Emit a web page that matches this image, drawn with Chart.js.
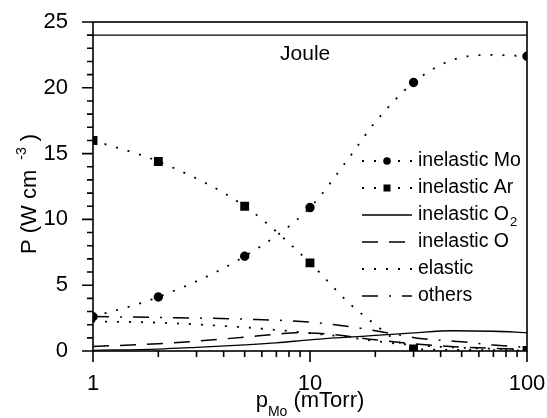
<!DOCTYPE html>
<html>
<head>
<meta charset="utf-8">
<script src="https://cdn.jsdelivr.net/npm/chart.js@4.4.1/dist/chart.umd.min.js"></script>
<style>
  html, body { margin: 0; padding: 0; background: #fff; }
  canvas { display: block; }
</style>
</head>
<body>
<canvas id="graficoPotencia" width="547" height="418"></canvas>
<script>
// Datos: P (W cm^-3) contra p_Mo (mTorr)
const ticksX = [1, 10, 100];
const ticksMenoresX = [2, 3, 4, 5, 6, 7, 8, 9, 20, 30, 40, 50, 60, 70, 80, 90];
const ticksY = [0, 5, 10, 15, 20, 25];

const jouleX = [1, 100];
const jouleY = [24, 24];

const moX = [1, 2, 5, 10, 15, 20, 30, 45, 67, 100];
const moY = [2.6, 4.1, 7.2, 10.9, 14.6, 17.4, 20.4, 22.1, 22.5, 22.4];
const moMarcas = [1, 2, 5, 10, 30, 100];

const arX = [1, 2, 5, 10, 15, 20, 25, 30, 50, 100];
const arY = [16.0, 14.4, 11.0, 6.7, 3.7, 2.0, 0.8, 0.15, 0.08, 0.05];
const arMarcas = [1, 2, 5, 10, 30, 100];

const o2X = [1, 2, 3, 5, 7, 10, 15, 20, 30, 45, 70, 100];
const o2Y = [0.05, 0.15, 0.28, 0.47, 0.62, 0.85, 1.05, 1.18, 1.38, 1.54, 1.5, 1.4];

const oX = [1, 2, 5, 7, 9, 12, 20, 30, 50, 100];
const oY = [0.35, 0.55, 1.05, 1.28, 1.38, 1.3, 0.85, 0.55, 0.3, 0.12];

const elasticoX = [1, 2, 5, 7, 10, 15, 20, 30, 50, 100];
const elasticoY = [2.25, 2.15, 1.8, 1.6, 1.35, 1.05, 0.75, 0.45, 0.25, 0.1];

const otrosX = [1, 2, 5, 10, 16, 23, 33, 50, 70, 100];
const otrosY = [2.62, 2.55, 2.42, 2.2, 1.8, 1.37, 0.93, 0.7, 0.45, 0.28];

const fuente = "'Liberation Sans', Arial, Helvetica, sans-serif";

function puntos(xs, ys) {
    return xs.map((x, i) => ({ x: x, y: ys[i] }));
}

// Radio del marcador solo en los puntos medidos
function radioMarcas(xs, marcas, radio) {
    return ctx => marcas.includes(xs[ctx.dataIndex]) ? radio : 0;
}

function serie(etiqueta, xs, ys, estilo) {
    return Object.assign({
        label: etiqueta,
        data: puntos(xs, ys),
        borderColor: '#000',
        backgroundColor: '#000',
        borderWidth: 1.5,
        pointRadius: 0,
        cubicInterpolationMode: 'monotone',
        clip: 0,
        fill: false
    }, estilo);
}

const punteado = [2, 10];

const datasets = [
    serie('Joule', jouleX, jouleY, { borderWidth: 1.2 }),
    serie('inelastic Mo', moX, moY, {
        borderDash: punteado, borderWidth: 1.8,
        pointStyle: 'circle', pointRadius: radioMarcas(moX, moMarcas, 3.8),
        leyenda: true
    }),
    serie('inelastic Ar', arX, arY, {
        borderDash: punteado, borderWidth: 1.8,
        pointStyle: 'rect', pointRadius: radioMarcas(arX, arMarcas, 5),
        leyenda: true
    }),
    serie('inelastic O', o2X, o2Y, { borderWidth: 1.3, leyenda: true, subindice: '2' }),
    serie('inelastic O', oX, oY, { borderDash: [16, 11], leyenda: true }),
    serie('elastic', elasticoX, elasticoY, { borderDash: punteado, borderWidth: 1.8, leyenda: true }),
    serie('others', otrosX, otrosY, { borderDash: [16, 11, 2, 11], leyenda: true })
];

// Marco, ticks mayores y menores, títulos de ejes, texto Joule y leyenda
const pluginDecoracion = {
    id: 'decoracion',
    afterDraw(chart) {
        const ctx = chart.ctx;
        const a = chart.chartArea;
        const sx = chart.scales.x;
        const sy = chart.scales.y;
        ctx.save();
        ctx.strokeStyle = '#000';
        ctx.fillStyle = '#000';
        ctx.lineWidth = 1.6;
        ctx.setLineDash([]);
        ctx.strokeRect(a.left, a.top, a.right - a.left, a.bottom - a.top);

        ctx.beginPath();
        for (let v = 0; v <= 25; v++) {
            const py = sy.getPixelForValue(v);
            const largo = ticksY.includes(v) ? 11 : 6;
            ctx.moveTo(a.left - largo, py);
            ctx.lineTo(a.left, py);
        }
        ticksX.forEach(v => {
            const px = sx.getPixelForValue(v);
            ctx.moveTo(px, a.bottom);
            ctx.lineTo(px, a.bottom + 11);
        });
        ticksMenoresX.forEach(v => {
            const px = sx.getPixelForValue(v);
            ctx.moveTo(px, a.bottom);
            ctx.lineTo(px, a.bottom + 6);
        });
        ctx.stroke();

        // Texto "Joule"
        ctx.font = '21px ' + fuente;
        ctx.textAlign = 'center';
        ctx.textBaseline = 'middle';
        ctx.fillText('Joule', sx.getPixelForValue(9.5), sy.getPixelForValue(22.55));

        // Título eje x: p_Mo (mTorr)
        ctx.textAlign = 'left';
        ctx.textBaseline = 'alphabetic';
        const partesX = [
            { t: 'p', f: 22, dy: 0 },
            { t: 'Mo', f: 14, dy: 9 },
            { t: ' (mTorr)', f: 22, dy: 0 }
        ];
        let ancho = 0;
        partesX.forEach(p => { ctx.font = p.f + 'px ' + fuente; ancho += ctx.measureText(p.t).width; });
        let cx = (a.left + a.right) / 2 - ancho / 2;
        partesX.forEach(p => {
            ctx.font = p.f + 'px ' + fuente;
            ctx.fillText(p.t, cx, 407 + p.dy);
            cx += ctx.measureText(p.t).width;
        });

        // Título eje y: P (W cm^-3)
        ctx.save();
        ctx.translate(36, 194);
        ctx.rotate(-Math.PI / 2);
        const partesY = [
            { t: 'P (W cm ', f: 22, dy: 0 },
            { t: ' -3', f: 14, dy: -10 },
            { t: ' )', f: 22, dy: 0 }
        ];
        ancho = 0;
        partesY.forEach(p => { ctx.font = p.f + 'px ' + fuente; ancho += ctx.measureText(p.t).width; });
        cx = -ancho / 2;
        partesY.forEach(p => {
            ctx.font = p.f + 'px ' + fuente;
            ctx.fillText(p.t, cx, p.dy);
            cx += ctx.measureText(p.t).width;
        });
        ctx.restore();

        // Leyenda
        const x0 = 362, x1 = 412, xt = 418;
        let fila = 161;
        chart.data.datasets.forEach(ds => {
            if (!ds.leyenda) return;
            ctx.save();
            ctx.strokeStyle = '#000';
            ctx.lineWidth = ds.borderWidth;
            ctx.setLineDash(ds.borderDash || []);
            ctx.beginPath();
            ctx.moveTo(x0, fila);
            ctx.lineTo(x1, fila);
            ctx.stroke();
            ctx.setLineDash([]);
            if (ds.pointStyle === 'circle') {
                ctx.beginPath();
                ctx.arc((x0 + x1) / 2, fila, 3.8, 0, Math.PI * 2);
                ctx.fill();
            } else if (ds.pointStyle === 'rect') {
                ctx.fillRect((x0 + x1) / 2 - 3.5, fila - 3.5, 7, 7);
            }
            ctx.font = '19.5px ' + fuente;
            ctx.textAlign = 'left';
            ctx.textBaseline = 'middle';
            ctx.fillText(ds.label, xt, fila);
            if (ds.subindice) {
                const w = ctx.measureText(ds.label).width;
                ctx.font = '13px ' + fuente;
                ctx.fillText(ds.subindice, xt + w + 1, fila + 7);
            }
            ctx.restore();
            fila += 27;
        });
        ctx.restore();
    }
};

new Chart(document.getElementById('graficoPotencia'), {
    type: 'line',
    data: { datasets: datasets },
    options: {
        responsive: false,
        animation: false,
        events: [],
        devicePixelRatio: 1,
        layout: { padding: { top: 22, right: 20, bottom: 0, left: 0 } },
        plugins: { legend: { display: false }, tooltip: { enabled: false } },
        scales: {
            x: {
                type: 'logarithmic',
                min: 1,
                max: 100,
                grid: { display: false, drawTicks: false },
                border: { display: false },
                afterBuildTicks: escala => { escala.ticks = ticksX.map(v => ({ value: v })); },
                afterFit: escala => {
                    escala.height = 67;
                    escala.paddingLeft = 0;
                    escala.paddingRight = 0;
                },
                ticks: {
                    autoSkip: false,
                    maxRotation: 0,
                    padding: 20,
                    color: '#000',
                    font: { family: fuente, size: 22 },
                    callback: v => String(v)
                }
            },
            y: {
                type: 'linear',
                min: 0,
                max: 25,
                grid: { display: false, drawTicks: false },
                border: { display: false },
                afterBuildTicks: escala => { escala.ticks = ticksY.map(v => ({ value: v })); },
                afterFit: escala => {
                    escala.width = 93;
                    escala.paddingTop = 0;
                    escala.paddingBottom = 0;
                },
                ticks: {
                    padding: 25,
                    color: '#000',
                    font: { family: fuente, size: 22 }
                }
            }
        }
    },
    plugins: [pluginDecoracion]
});
</script>
</body>
</html>
